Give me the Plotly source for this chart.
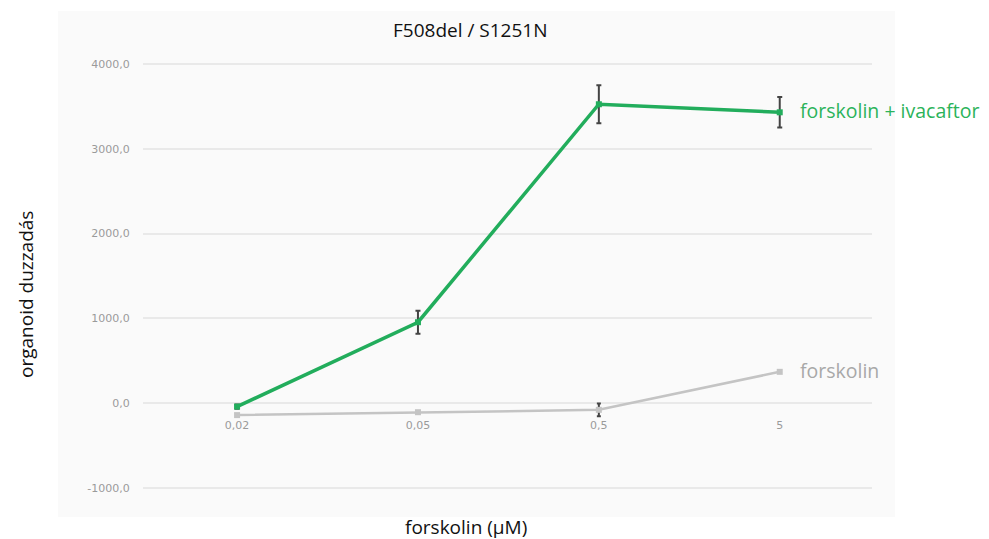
import plotly.graph_objects as go

categories = ["0,02", "0,05", "0,5", "5"]
y_tick_vals = [-1000, 0, 1000, 2000, 3000, 4000]
y_tick_text = ["-1000,0", "0,0", "1000,0", "2000,0", "3000,0", "4000,0"]

ivacaftor_vals = [-40, 955, 3525, 3430]
ivacaftor_err = [25, 135, 225, 180]
forskolin_vals = [-140, -106, -78, 370]
forskolin_err = [0, 0, 75, 0]

title = "F508del / S1251N"
x_title = "forskolin (μM)"
y_title = "organoid duzzadás"
label_green = "forskolin + ivacaftor"
label_gray = "forskolin"

GREEN = "#22ad5c"
GRAY_LINE = "#c4c4c4"
xpos = list(range(len(categories)))

fig = go.Figure()
fig.add_trace(go.Scatter(
    x=xpos, y=forskolin_vals, mode="lines+markers",
    line=dict(color=GRAY_LINE, width=2.5),
    marker=dict(symbol="square", size=6, color=GRAY_LINE),
    error_y=dict(type="data", array=forskolin_err, visible=True,
                 color="#444444", thickness=2, width=2),
    showlegend=False, hoverinfo="skip"))
fig.add_trace(go.Scatter(
    x=xpos, y=ivacaftor_vals, mode="lines+markers",
    line=dict(color=GREEN, width=3.5),
    marker=dict(symbol="square", size=6, color=GREEN),
    error_y=dict(type="data", array=ivacaftor_err, visible=True,
                 color="#444444", thickness=2, width=2.5),
    showlegend=False, hoverinfo="skip"))

L, R, T, B = 143, 117, 47, 34
W, H = 989, 539
pw, ph = W - L - R, H - T - B

def px(x):
    return (x - L) / pw

def py(y):
    return (H - B - y) / ph

fig.add_shape(type="rect", xref="paper", yref="paper",
              x0=px(58), x1=px(895), y0=py(517), y1=py(11),
              fillcolor="#fafafa", line=dict(width=0), layer="below")

ymin, ymax = -1200, 4200
tickfont = dict(family="DejaVu Sans", size=11, color="#9a9a9a")
fig.update_layout(
    width=W, height=H,
    margin=dict(l=L, r=R, t=T, b=B),
    paper_bgcolor="white", plot_bgcolor="rgba(0,0,0,0)",
    font=dict(family="Open Sans", color="#111111"),
    xaxis=dict(range=[-0.52, 3.51], tickvals=xpos, ticktext=categories,
               showgrid=False, zeroline=False, showline=False,
               anchor="free", position=(0 - ymin) / (ymax - ymin),
               ticks="outside", ticklen=12, tickcolor="rgba(0,0,0,0)",
               tickfont=tickfont),
    yaxis=dict(range=[ymin, ymax], tickvals=y_tick_vals, ticktext=y_tick_text,
               showgrid=True, gridcolor="#e9e9e9", gridwidth=2,
               zeroline=False, showline=False,
               ticks="outside", ticklen=10, tickcolor="rgba(0,0,0,0)",
               tickfont=tickfont),
)

TXT = dict(family="Open Sans", size=19, color="#111111")
fig.add_annotation(text=title, xref="paper", yref="paper",
                   x=px(470), y=py(30), showarrow=False,
                   xanchor="center", yanchor="middle", font=TXT)
fig.add_annotation(text=x_title, xref="paper", yref="paper",
                   x=px(466), y=py(527), showarrow=False,
                   xanchor="center", yanchor="middle", font=TXT)
fig.add_annotation(text=y_title, xref="paper", yref="paper",
                   x=px(26), y=py(295), showarrow=False, textangle=-90,
                   xanchor="center", yanchor="middle", font=TXT)
fig.add_annotation(text=label_green, x=xpos[-1], y=ivacaftor_vals[-1],
                   xanchor="left", yanchor="middle", xshift=18, yshift=2,
                   showarrow=False,
                   font=dict(family="Open Sans", size=19.5, color="#2bb35a"))
fig.add_annotation(text=label_gray, x=xpos[-1], y=forskolin_vals[-1],
                   xanchor="left", yanchor="middle", xshift=18, yshift=1,
                   showarrow=False,
                   font=dict(family="Open Sans", size=19.5, color="#a8a8a8"))

fig.write_html("out.html",
               config={"displayModeBar": False},
               post_script="document.body.style.margin='0';document.body.style.overflow='hidden';")
